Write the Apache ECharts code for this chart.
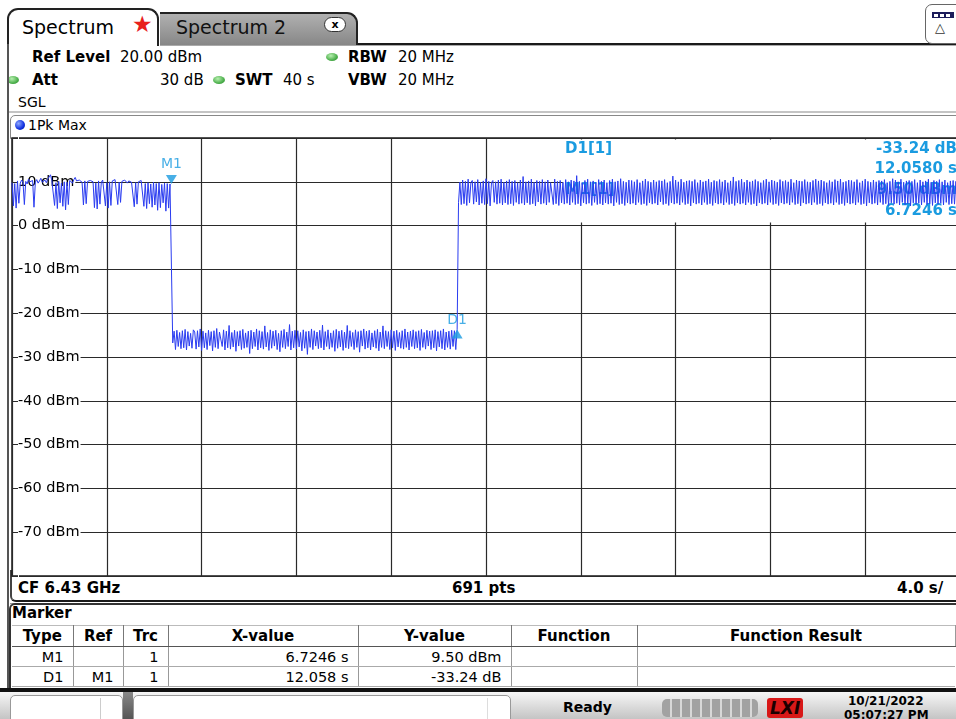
<!DOCTYPE html>
<html><head><meta charset="utf-8">
<script src="https://cdn.jsdelivr.net/npm/echarts@6/dist/echarts.min.js"></script>
<style>
html,body{margin:0;padding:0;width:956px;height:719px;overflow:hidden;background:#fff;font-family:"DejaVu Sans",Verdana,sans-serif;color:#000;}
.a{position:absolute;}
.t{position:absolute;white-space:nowrap;line-height:20px;height:20px;font-size:15px;}
.b{font-weight:bold;}
.dot{position:absolute;width:12px;height:8px;border-radius:50%;background:radial-gradient(ellipse at 40% 35%,#b8f0b0,#4caf4c 60%,#2e8b2e);}
#chart{position:absolute;left:0;top:0;width:956px;height:719px;z-index:5;}
table{border-collapse:collapse;}
</style></head><body>
<!-- tabs -->
<div class="a" style="left:160px;top:43px;width:796px;height:2px;background:#1a1a1a;"></div>
<div class="a" style="left:160px;top:45px;width:796px;height:1px;background:#aaa;"></div>
<div class="a" style="left:7px;top:8px;width:152px;height:38px;border:2px solid #222;border-bottom:none;border-radius:11px 11px 0 0;background:#fff;box-sizing:border-box;"></div>
<div class="t" style="left:22px;top:15px;font-size:19px;line-height:24px;height:24px;">Spectrum</div>
<div class="a" style="left:132px;top:11px;font-size:23px;color:#e8201c;line-height:26px;">★</div>
<div class="a" style="left:160px;top:12px;width:198px;height:33px;border:2px solid #222;border-bottom:none;border-left:none;border-radius:0 11px 0 0;background:linear-gradient(#b0b0b0,#878787);box-sizing:border-box;"></div>
<div class="t" style="left:176px;top:15px;font-size:19px;line-height:24px;height:24px;color:#111;">Spectrum 2</div>
<div class="a" style="left:324px;top:17px;width:22px;height:15px;border:1.5px solid #333;border-radius:8px;background:#fff;font-size:11px;font-weight:bold;line-height:13px;text-align:center;box-sizing:border-box;">x</div>
<div class="a" style="left:925px;top:4px;width:40px;height:40px;border:1.5px solid #666;border-radius:7px;background:#fff;box-sizing:border-box;"></div>
<div class="a" style="left:932px;top:12px;width:22px;height:6px;background:#1c1c5a;"></div>
<div class="a" style="left:934px;top:13.5px;width:4px;height:3px;background:#fff;"></div>
<div class="a" style="left:940px;top:13.5px;width:4px;height:3px;background:#fff;"></div>
<div class="a" style="left:946px;top:13.5px;width:4px;height:3px;background:#fff;"></div>
<div class="a" style="left:935px;top:20px;font-size:13px;line-height:16px;color:#333;">△</div>
<!-- header -->
<div class="t b" style="left:32px;top:47px;">Ref Level</div>
<div class="t" style="left:120px;top:47px;">20.00 dBm</div>
<div class="dot" style="left:326px;top:53px;"></div>
<div class="t b" style="left:348px;top:47px;">RBW</div>
<div class="t" style="left:398px;top:47px;">20 MHz</div>
<div class="dot" style="left:7px;top:76px;"></div>
<div class="t b" style="left:32px;top:70px;">Att</div>
<div class="t" style="left:160px;top:70px;">30 dB</div>
<div class="dot" style="left:213px;top:76px;"></div>
<div class="t b" style="left:235px;top:70px;">SWT</div>
<div class="t" style="left:283px;top:70px;">40 s</div>
<div class="t b" style="left:348px;top:70px;">VBW</div>
<div class="t" style="left:398px;top:70px;">20 MHz</div>
<div class="t" style="left:18px;top:92px;font-size:14px;">SGL</div>
<div class="a" style="left:7px;top:44px;width:2px;height:646px;background:#555;"></div>
<div class="a" style="left:9px;top:111px;width:947px;height:2px;background:#c4c4c4;"></div>
<div class="a" style="left:10px;top:115px;width:950px;height:24px;border:1px solid #888;border-radius:5px 0 0 0;box-sizing:border-box;background:#fff;"></div>
<div class="a" style="left:15px;top:120px;width:10px;height:10px;border-radius:50%;background:radial-gradient(circle at 35% 35%,#8fa8ff,#1030e0 60%,#0a1a90);"></div>
<div class="t" style="left:28px;top:115px;font-size:14px;">1Pk Max</div>
<!-- CF bar -->
<div class="a" style="left:10px;top:570px;width:950px;height:32px;border-left:2px solid #444;border-bottom:2px solid #1a1a1a;border-radius:0 0 0 6px;box-sizing:border-box;background:#fff;"></div>
<div class="a" style="left:10px;top:603px;width:950px;height:1px;background:#999;"></div>
<div class="t b" style="left:18px;top:578px;">CF 6.43 GHz</div>
<div class="t b" style="left:452px;top:578px;">691 pts</div>
<div class="t b" style="left:897px;top:578px;">4.0 s/</div>
<!-- marker panel -->
<div class="a" style="left:9px;top:603px;width:950px;height:86px;border-left:2px solid #333;border-top:2px solid #333;border-radius:6px 0 0 0;box-sizing:border-box;"></div>
<div class="t b" style="left:12px;top:603px;">Marker</div>
<div id="tbl" class="a" style="left:12px;top:625px;"></div>
<!-- status bar -->
<div class="a" style="left:0;top:688px;width:956px;height:4px;background:#111;"></div>
<div class="a" style="left:0;top:692px;width:956px;height:27px;background:linear-gradient(#f6f6f6,#c4c4c4);"></div>
<div class="a" style="left:10px;top:695px;width:113px;height:30px;background:#fff;border:1px solid #999;border-radius:5px 5px 0 0;box-sizing:border-box;"></div>
<div class="a" style="left:100px;top:698px;width:1px;height:22px;background:#ccc;"></div>
<div class="a" style="left:123px;top:692px;width:10px;height:27px;background:linear-gradient(#888,#555);"></div>
<div class="a" style="left:133px;top:695px;width:378px;height:30px;background:#fff;border:1px solid #999;border-radius:5px 5px 0 0;box-sizing:border-box;"></div>
<div class="a" style="left:487px;top:698px;width:1px;height:22px;background:#ddd;"></div>
<div class="t b" style="left:563px;top:697px;font-size:14px;">Ready</div>
<div class="a" style="left:662px;top:699px;width:96px;height:18px;border-radius:5px;background:repeating-linear-gradient(90deg,#a2a2a2 0,#a2a2a2 8px,#d8d8d8 8px,#d8d8d8 10px);"></div>
<div class="a" style="left:767px;top:698px;font-size:17px;font-weight:bold;font-style:italic;color:#1a0000;background:#d81818;line-height:20px;padding:0 3px;border-radius:3px;">LXI</div>
<div class="t b" style="left:848px;top:692px;font-size:12px;line-height:18px;">10/21/2022</div>
<div class="t b" style="left:844px;top:706px;font-size:12px;line-height:18px;">05:07:27 PM</div>
<div id="chart"></div>
<script>
// ---- data ----
const sweepTime = 40;          // s (SWT)
const pointCount = 691;        // pts
const yTickValues = [20, 10, 0, -10, -20, -30, -40, -50, -60, -70, -80];
const yTickLabels = ['', '10 dBm', '0 dBm', '-10 dBm', '-20 dBm', '-30 dBm', '-40 dBm', '-50 dBm', '-60 dBm', '-70 dBm', ''];
// trace, segment before M1 (index 0..116)
const traceSeg1 = [
 9.8,4.5,9.6,4.0,10.2,5.1,9.7,10.4,9.9,4.8,
 10.1,9.5,10.6,10.0,9.8,10.3,4.2,9.9,10.5,9.7,
 10.2,10.8,9.9,10.1,10.4,9.8,10.6,10.2,11.6,10.3,
 9.9,4.6,9.8,3.9,10.1,5.2,9.7,4.4,10.0,3.6,
 9.9,4.8,10.3,10.1,9.7,10.5,11.0,10.2,9.8,10.4,
 10.0,9.9,4.7,10.2,5.0,10.1,9.8,10.3,9.9,10.0,
 4.1,9.7,3.8,10.2,4.9,9.9,10.4,10.1,4.5,9.8,
 4.0,10.0,4.6,10.2,9.9,10.5,10.3,4.8,9.9,5.3,
 10.1,9.8,10.4,10.0,9.7,10.2,10.6,9.9,10.1,4.3,
 9.8,4.9,10.0,9.7,10.3,9.9,4.4,9.6,3.9,9.8,
 5.0,9.5,4.2,9.9,4.7,9.6,3.5,9.8,4.1,9.4,
 5.2,9.7,3.3,9.6,4.0,9.5,9.5
];
// trace, low segment between M1 and D1 (index 117..324)
const traceSeg2 = [
 -26.8,-24.1,-28.3,-23.9,-27.6,-24.4,-28.1,-24.0,-27.9,-23.7,
 -28.4,-24.2,-27.5,-24.6,-28.0,-23.8,-24.3,-28.2,-24.0,-27.7,
 -23.6,-28.5,-24.1,-27.9,-24.5,-28.3,-23.9,-27.4,-24.2,-28.6,
 -24.0,-27.8,-23.5,-28.1,-24.3,-24.0,-27.6,-23.8,-28.4,-24.1,
 -27.9,-22.8,-28.2,-24.4,-27.7,-23.9,-28.7,-24.2,-27.5,-24.0,
 -28.3,-23.7,-28.0,-24.5,-27.8,-24.1,-29.2,-23.9,-28.1,-24.3,
 -27.6,-23.6,-28.4,-24.0,-27.9,-24.2,-28.2,-22.9,-27.7,-24.4,
 -28.5,-23.8,-28.0,-24.1,-27.5,-23.9,-28.3,-24.6,-28.8,-24.0,
 -27.8,-23.7,-28.1,-24.3,-27.6,-22.6,-28.4,-24.1,-27.9,-23.9,
 -28.2,-24.0,-27.7,-24.4,-28.6,-23.8,-28.0,-24.2,-29.4,-24.1,
 -27.8,-23.6,-28.3,-24.0,-27.5,-24.3,-28.1,-23.9,-27.9,-22.7,
 -28.4,-24.2,-27.6,-23.8,-28.2,-24.5,-27.8,-24.0,-28.7,-23.7,
 -28.0,-24.1,-27.7,-23.9,-28.5,-24.3,-27.9,-22.8,-28.1,-24.0,
 -27.6,-24.4,-28.3,-23.8,-27.8,-24.2,-28.9,-24.0,-27.5,-23.6,
 -28.2,-24.1,-27.9,-23.9,-28.4,-24.5,-27.7,-24.0,-28.0,-23.7,
 -28.6,-24.3,-27.8,-22.9,-28.1,-24.0,-27.6,-24.2,-28.3,-23.8,
 -27.9,-24.1,-28.5,-23.9,-27.7,-24.4,-28.0,-24.0,-28.2,-23.6,
 -27.8,-24.3,-28.4,-24.1,-27.6,-23.8,-28.1,-24.2,-27.9,-24.0,
 -28.5,-23.7,-27.8,-24.4,-28.2,-23.9,-27.5,-24.1,-28.3,-24.0,
 -27.9,-23.8,-28.6,-24.2,-27.7,-24.0,-28.1,-23.6,-28.4,-24.3,
 -27.8,-24.1,-28.2,-23.9,-27.6,-24.0,-28.3,-23.7
];
// trace, segment after D1 (index 325..690)
const traceSeg3 = [
 5.3,9.9,4.8,10.4,5.0,10.1,4.6,10.6,5.2,9.8,
 10.3,4.9,10.0,5.4,10.5,4.7,9.9,5.1,10.2,4.8,
 10.7,5.0,10.1,4.5,9.8,10.3,5.3,10.0,4.9,10.4,
 5.1,10.6,4.7,9.9,5.2,10.2,4.8,10.5,5.0,10.1,
 4.6,10.3,5.3,9.8,4.9,10.4,5.1,11.2,4.7,10.0,
 5.2,10.2,4.8,10.6,5.0,9.9,4.5,10.3,5.4,10.1,
 4.9,10.5,5.1,10.0,4.7,10.4,5.3,9.8,10.2,4.8,
 10.6,5.0,10.1,4.6,10.3,5.2,9.9,4.9,10.5,5.1,
 10.0,4.7,10.4,5.3,10.2,4.8,11.4,5.0,10.1,4.5,
 9.8,5.2,10.3,4.9,10.6,5.1,10.0,4.6,10.2,5.3,
 9.9,4.8,10.5,5.0,10.1,4.7,10.4,5.2,9.8,4.9,
 10.3,5.1,10.6,4.5,10.0,5.3,10.2,4.8,10.7,5.0,
 10.1,4.6,9.9,5.2,10.4,4.9,10.3,5.1,10.0,4.7,
 10.5,5.3,9.8,4.8,10.2,5.0,10.6,4.6,10.1,5.2,
 9.9,4.9,10.4,5.1,10.0,4.7,10.3,5.4,10.2,4.8,
 10.5,5.0,9.8,4.6,10.1,5.2,11.3,4.9,10.4,5.1,
 10.0,4.7,10.6,5.3,9.9,4.8,10.2,5.0,10.3,4.5,
 10.1,5.2,10.5,4.9,9.8,5.1,10.4,4.7,10.0,5.3,
 10.2,4.8,10.6,5.0,9.9,4.6,10.3,5.2,10.1,4.9,
 10.5,5.1,10.0,4.7,10.4,5.3,9.8,4.8,10.2,5.0,
 11.1,4.6,10.1,5.2,10.3,4.9,10.6,5.1,9.9,4.7,
 10.4,5.3,10.0,4.8,10.2,5.0,10.5,4.5,10.1,5.2,
 9.8,4.9,10.3,5.1,10.6,4.7,10.0,5.3,10.4,4.8,
 10.2,5.0,9.9,4.6,10.5,5.2,10.1,4.9,10.3,5.1,
 10.0,4.7,10.6,5.3,9.8,4.8,10.4,5.0,10.2,4.5,
 10.1,5.2,10.5,4.9,10.0,5.1,9.9,4.7,10.3,5.3,
 10.6,4.8,10.2,5.0,10.4,4.6,10.1,5.2,9.8,4.9,
 10.3,5.1,10.0,4.7,10.5,5.3,10.2,4.8,10.6,5.0,
 9.9,4.6,10.1,5.2,10.4,4.9,10.3,5.1,10.0,4.7,
 10.5,5.3,9.8,4.8,10.2,5.0,10.6,4.5,10.1,5.2,
 9.9,4.9,10.4,5.1,10.0,4.7,10.3,5.3,10.2,4.8,
 10.5,5.0,9.8,4.6,10.1,5.2,10.7,4.9,10.4,5.1,
 10.0,4.7,10.6,5.3,9.9,4.8,10.2,5.0,10.3,4.5,
 10.1,5.2,10.5,4.9,9.8,5.1,10.4,4.7,10.0,5.3,
 10.2,4.8,10.6,5.0,9.9,4.6,10.3,5.2,10.1,4.9,
 10.5,5.1,10.0,4.7,10.4,5.3,9.8,4.8,10.2,5.0,
 10.3,4.9,10.1,5.2,10.4,4.8
];
// markers
const markerNames = ['M1', 'D1'];
const markerRefs = ['', 'M1'];
const markerTrc = [1, 1];
const m1Time = 6.7246;       // s
const m1Level = 9.50;        // dBm
const d1DeltaTime = 12.058;  // s
const d1DeltaLevel = -33.24; // dB
const markerXText = ['6.7246 s', '12.058 s'];
const markerYText = ['9.50 dBm', '-33.24 dB'];
const tableHeaders = ['Type', 'Ref', 'Trc', 'X-value', 'Y-value', 'Function', 'Function Result'];
const tableColWidths = [61, 50, 45, 190, 153, 126, 318];

// ---- marker table ----
(function () {
  let h = '<table style="font-size:14.5px;">';
  const cell = (txt, w, align, extra) => '<td style="width:' + w + 'px;max-width:' + w + 'px;padding:0 ' + (align === 'right' ? '9px 0 0' : '0') + ';text-align:' + align + ';' + extra + '">' + txt + '</td>';
  h += '<tr style="height:21px;font-weight:bold;font-size:15px;">';
  tableHeaders.forEach((t, i) => {
    h += cell(t, tableColWidths[i], 'center', 'border-top:1px solid #bbb;border-bottom:1.5px solid #555;' + (i < tableHeaders.length - 1 ? 'border-right:1.5px solid #777;' : 'border-right:1px solid #999;') + 'box-sizing:border-box;');
  });
  h += '</tr>';
  markerNames.forEach((m, r) => {
    const vals = [m, markerRefs[r], String(markerTrc[r]), markerXText[r], markerYText[r], '', ''];
    h += '<tr style="height:20px;">';
    vals.forEach((v, i) => {
      const al = i < 5 ? 'right' : 'left';
      h += cell(v, tableColWidths[i], al, 'border-bottom:1px solid #aaa;' + (i < vals.length - 1 ? 'border-right:1px solid #999;' : '') + 'box-sizing:border-box;');
    });
    h += '</tr>';
  });
  h += '</table>';
  document.getElementById('tbl').innerHTML = h;
})();

// ---- chart ----
const trace = traceSeg1.concat(traceSeg2, traceSeg3);
const step = sweepTime / (pointCount - 1);
const traceData = trace.map((v, i) => [i * step, v]);
const d1Time = m1Time + d1DeltaTime;
const d1Level = m1Level + d1DeltaLevel;
const accent = '#1a9be0';
const FF = '"DejaVu Sans", Verdana, sans-serif';

const chart = echarts.init(document.getElementById('chart'), null, {renderer: 'canvas'});
chart.setOption({
  animation: false,
  backgroundColor: 'transparent',
  grid: {left: 12, top: 138, width: 948, height: 438, show: true, backgroundColor: '#fff', borderColor: '#1a1a1a', borderWidth: 1.5, containLabel: false, outerBoundsMode: 'none'},
  xAxis: {
    type: 'value', min: 0, max: sweepTime, interval: sweepTime / 10,
    axisLine: {show: false}, axisTick: {show: false}, axisLabel: {show: false},
    splitLine: {show: true, lineStyle: {color: '#2a2a2a', width: 1.2}}
  },
  yAxis: {
    type: 'value', min: -80, max: 20, interval: 10,
    axisLine: {show: false}, axisTick: {show: false},
    axisLabel: {
      inside: true, margin: 6, color: '#000', fontSize: 14.5, fontFamily: FF,
      backgroundColor: '#fff', padding: [1, 1, 1, 0],
      formatter: v => yTickLabels[yTickValues.indexOf(v)] || ''
    },
    splitLine: {show: true, lineStyle: {color: '#2a2a2a', width: 1.2}}
  },
  graphic: [
    {type: 'rect', z: 1, silent: true, shape: {x: 563, y: 139.5, width: 400, height: 83}, style: {fill: '#fff'}},
    {type: 'text', z: 1, silent: true, x: 565, y: 149, style: {text: markerNames[1] + '[1]', fill: accent, font: 'bold 15px ' + FF, textVerticalAlign: 'middle'}},
    {type: 'text', z: 1, silent: true, x: 565, y: 190, style: {text: markerNames[0] + '[1]', fill: accent, font: 'bold 15px ' + FF, textVerticalAlign: 'middle'}},
    {type: 'text', z: 1, silent: true, x: 957, y: 149, style: {text: d1DeltaLevel.toFixed(2) + ' dB', fill: accent, font: 'bold 15px ' + FF, textAlign: 'right', textVerticalAlign: 'middle'}},
    {type: 'text', z: 1, silent: true, x: 957, y: 169, style: {text: d1DeltaTime.toFixed(4) + ' s', fill: accent, font: 'bold 15px ' + FF, textAlign: 'right', textVerticalAlign: 'middle'}},
    {type: 'text', z: 1, silent: true, x: 957, y: 190, style: {text: m1Level.toFixed(2) + ' dBm', fill: accent, font: 'bold 15px ' + FF, textAlign: 'right', textVerticalAlign: 'middle'}},
    {type: 'text', z: 1, silent: true, x: 957, y: 211, style: {text: m1Time.toFixed(4) + ' s', fill: accent, font: 'bold 15px ' + FF, textAlign: 'right', textVerticalAlign: 'middle'}}
  ],
  series: [
    {
      type: 'line', data: traceData, showSymbol: false, symbol: 'none', z: 3, silent: true,
      lineStyle: {color: '#2a3cf0', width: 1}
    },
    {
      type: 'scatter', z: 4, silent: true, data: [[m1Time, m1Level]],
      symbol: 'triangle', symbolRotate: 180, symbolSize: [11, 9], symbolOffset: [0, -4.5],
      itemStyle: {color: accent},
      label: {show: true, formatter: markerNames[0], position: 'top', distance: 4, color: accent, fontSize: 14, fontFamily: FF}
    },
    {
      type: 'scatter', z: 4, silent: true, data: [[d1Time, d1Level]],
      symbol: 'triangle', symbolSize: [11, 9], symbolOffset: [0, 4.5],
      itemStyle: {color: accent},
      label: {show: true, formatter: markerNames[1], position: 'top', distance: 2, color: accent, fontSize: 14, fontFamily: FF}
    }
  ]
});
</script>
</body></html>
